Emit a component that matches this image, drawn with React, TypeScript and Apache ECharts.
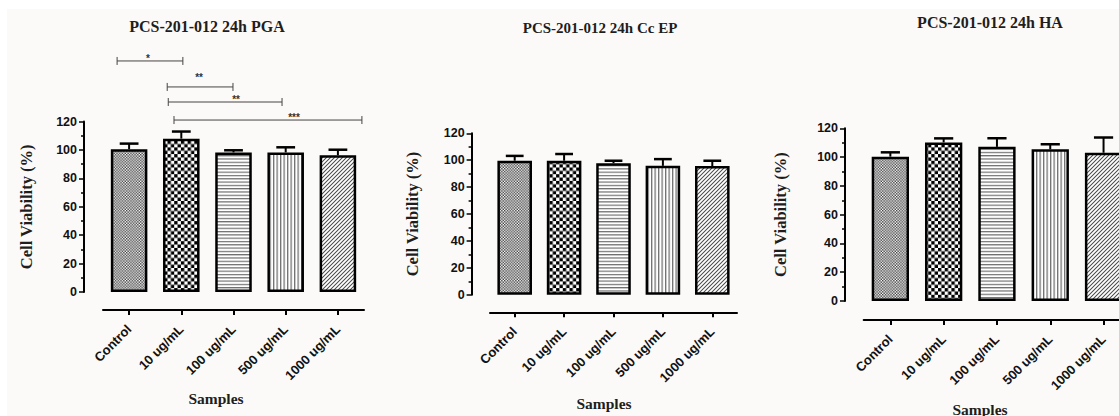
import React, { useEffect, useRef } from "react";
import * as echarts from "echarts";

// ---------------- data ----------------
const categories = ["Control", "10 ug/mL", "100 ug/mL", "500 ug/mL", "1000 ug/mL"];
const titles = ["PCS-201-012 24h PGA", "PCS-201-012 24h Cc EP", "PCS-201-012 24h HA"];
const yAxisName = "Cell Viability (%)";
const xAxisName = "Samples";
const yMin = 0;
const yMax = 120;
const yInterval = 20;

const pgaMean = [100.5, 108, 98.3, 98.3, 96.3];
const pgaSd = [4, 5, 1.5, 3.6, 3.9];
const epMean = [99.6, 99.6, 97.7, 95.8, 95.6];
const epSd = [3.6, 5, 1.9, 5, 4];
const haMean = [100.3, 110.2, 107.1, 105.4, 103];
const haSd = [3, 2.8, 6, 3.5, 10.6];

// significance brackets (PGA panel): ends in category units, heights in % units
const bracketLabels = ["*", "**", "**", "***"];
const bracketFrom = [-0.23, 0.73, 0.75, 0.86];
const bracketTo = [1.03, 1.99, 2.93, 4.46];
const bracketY = [162.7, 144.4, 133.8, 121.1];
const starX = [0.36, 1.34, 2.05, 3.16];
const starY = [164.2, 151.0, 135.5, 122.8];

// ---------------- layout ----------------
const sansFont = "'Liberation Sans', Arial, sans-serif";
const serifFont = "'Liberation Serif', 'Times New Roman', serif";

const grids = [
  { left: 103, top: 121.6, width: 261, height: 170.4, yOff: 19, xOff: 18, nameGap: 49 },
  { left: 490, top: 133.3, width: 247, height: 161.4, yOff: 18.4, xOff: 17.6, nameGap: 51 },
  { left: 863.7, top: 128.3, width: 266.5, height: 172.7, yOff: 18.7, xOff: 19, nameGap: 56 },
];
const titlePos = [
  [207, 26.5, 16],
  [600, 28, 15],
  [990, 22, 16],
];
const samplesPos = [
  [216, 398.5],
  [604, 403],
  [980, 409],
];

function makeTile(cw: number, ch: number, dw: number, dh: number, draw: (ctx: CanvasRenderingContext2D) => void) {
  const c = document.createElement("canvas");
  c.width = cw;
  c.height = ch;
  const ctx = c.getContext("2d") as CanvasRenderingContext2D;
  ctx.fillStyle = "#ffffff";
  ctx.fillRect(0, 0, cw, ch);
  draw(ctx);
  return { image: c.toDataURL(), repeat: "repeat", imageWidth: dw, imageHeight: dh };
}

function buildPatterns() {
  const fine = makeTile(12, 12, 2.8, 2.8, (ctx) => {
    ctx.fillStyle = "#3c3c3c";
    ctx.fillRect(0, 0, 6, 6);
    ctx.fillRect(6, 6, 6, 6);
  });
  const checker = makeTile(20, 20, 6.7, 6.7, (ctx) => {
    ctx.fillStyle = "#000000";
    ctx.fillRect(0, 0, 10, 10);
    ctx.fillRect(10, 10, 10, 10);
  });
  const hLines = makeTile(10, 10, 3.3, 3.3, (ctx) => {
    ctx.fillStyle = "#6a6a6a";
    ctx.fillRect(0, 0, 10, 3.5);
  });
  const vLines = makeTile(10, 10, 3.5, 3.5, (ctx) => {
    ctx.fillStyle = "#6a6a6a";
    ctx.fillRect(0, 0, 3.5, 10);
  });
  const diag = makeTile(16, 16, 4, 4, (ctx) => {
    ctx.strokeStyle = "#444444";
    ctx.lineWidth = 4;
    ctx.beginPath();
    ctx.moveTo(-2, 18);
    ctx.lineTo(18, -2);
    ctx.moveTo(-2, 2);
    ctx.lineTo(2, -2);
    ctx.moveTo(14, 18);
    ctx.lineTo(18, 14);
    ctx.stroke();
  });
  return [fine, checker, hLines, vLines, diag];
}

export default function App() {
  const ref = useRef<HTMLDivElement>(null);

  useEffect(() => {
    if (!ref.current) return;
    const chart = echarts.init(ref.current, undefined, { renderer: "svg" });
    const patterns = buildPatterns();
    const panels = [
      { mean: pgaMean, sd: pgaSd },
      { mean: epMean, sd: epSd },
      { mean: haMean, sd: haSd },
    ];

    const series: any[] = [];
    panels.forEach((p, i) => {
      series.push({
        type: "bar",
        xAxisIndex: i,
        yAxisIndex: i,
        barWidth: "70%",
        itemStyle: { borderColor: "#000", borderWidth: 2.5 },
        data: p.mean.map((v, k) => ({ value: v, itemStyle: { color: patterns[k] } })),
      });
      series.push({
        type: "custom",
        xAxisIndex: i,
        yAxisIndex: i,
        z: 3,
        data: p.mean.map((v, k) => [k, v, p.sd[k]]),
        renderItem: (params: any, api: any) => {
          const k = api.value(0);
          const m = api.value(1);
          const s = api.value(2);
          const base = api.coord([k, m]);
          const top = api.coord([k, m + s]);
          const half = api.size([1, 0])[0] * 0.18;
          return {
            type: "group",
            children: [
              { type: "line", shape: { x1: base[0], y1: base[1], x2: top[0], y2: top[1] }, style: { stroke: "#000", lineWidth: 2 } },
              { type: "line", shape: { x1: top[0] - half, y1: top[1], x2: top[0] + half, y2: top[1] }, style: { stroke: "#000", lineWidth: 2.5 } },
            ],
          };
        },
      });
    });

    series.push({
      type: "custom",
      xAxisIndex: 0,
      yAxisIndex: 0,
      clip: false,
      z: 4,
      data: bracketFrom.map((f, k) => [0, 0, f, bracketTo[k], bracketY[k], starX[k], starY[k]]),
      renderItem: (params: any, api: any) => {
        const band = api.size([1, 0])[0];
        const x0 = api.coord([0, 0])[0];
        const X = (u: number) => x0 + u * band;
        const Y = (v: number) => api.coord([0, v])[1];
        const xa = X(api.value(2));
        const xb = X(api.value(3));
        const y = Y(api.value(4));
        const sx = X(api.value(5));
        const sy = Y(api.value(6));
        const st = { stroke: "#444", lineWidth: 1 };
        return {
          type: "group",
          children: [
            { type: "line", shape: { x1: xa, y1: y, x2: xb, y2: y }, style: st },
            { type: "line", shape: { x1: xa, y1: y - 4, x2: xa, y2: y + 4 }, style: st },
            { type: "line", shape: { x1: xb, y1: y - 4, x2: xb, y2: y + 4 }, style: st },
            {
              type: "text",
              style: {
                text: bracketLabels[params.dataIndex],
                x: sx,
                y: sy,
                align: "center",
                verticalAlign: "middle",
                fill: "#333",
                fontSize: 10,
                fontWeight: "bold",
                fontFamily: sansFont,
              },
            },
          ],
        };
      },
    });

    const graphics: any[] = [
      { type: "rect", z: -10, shape: { x: 7, y: 9, width: 1112, height: 407 }, style: { fill: "#fcfaf8" } },
    ];
    titles.forEach((t, i) => {
      graphics.push({
        type: "text",
        x: titlePos[i][0],
        y: titlePos[i][1],
        style: {
          text: t,
          align: "center",
          verticalAlign: "middle",
          fill: "#1e1e1e",
          fontSize: titlePos[i][2],
          fontWeight: "bold",
          fontFamily: serifFont,
        },
      });
      graphics.push({
        type: "text",
        x: samplesPos[i][0],
        y: samplesPos[i][1],
        style: {
          text: xAxisName,
          align: "center",
          verticalAlign: "middle",
          fill: "#1e1e1e",
          fontSize: 15.5,
          fontWeight: "bold",
          fontFamily: serifFont,
        },
      });
    });

    chart.setOption({
      animation: false,
      backgroundColor: "#ffffff",
      grid: grids.map((g) => ({
        left: g.left,
        top: g.top,
        width: g.width,
        height: g.height,
        containLabel: false,
        outerBoundsMode: "none",
      })),
      xAxis: grids.map((g, i) => ({
        type: "category",
        gridIndex: i,
        data: categories,
        position: "bottom",
        offset: g.xOff,
        axisLine: { show: true, onZero: false, lineStyle: { color: "#000", width: 2 } },
        axisTick: { show: true, alignWithLabel: true, length: 5, lineStyle: { color: "#000", width: 2 } },
        axisLabel: {
          interval: 0,
          rotate: 45,
          margin: 17,
          color: "#111",
          fontSize: 13,
          fontWeight: "bold",
          fontFamily: sansFont,
        },
        splitLine: { show: false },
      })),
      yAxis: grids.map((g, i) => ({
        type: "value",
        gridIndex: i,
        min: yMin,
        max: yMax,
        interval: yInterval,
        offset: g.yOff,
        name: yAxisName,
        nameLocation: "middle",
        nameGap: g.nameGap,
        nameRotate: 90,
        nameTextStyle: { fontFamily: serifFont, fontWeight: "bold", fontSize: 16.5, color: "#1e1e1e" },
        axisLine: { show: true, onZero: false, lineStyle: { color: "#000", width: 2 } },
        axisTick: { show: true, length: 5, lineStyle: { color: "#000", width: 1.5 } },
        minorTick: { show: true, splitNumber: 2, length: 3, lineStyle: { color: "#000", width: 1.5 } },
        axisLabel: { margin: 7, color: "#111", fontSize: 12.5, fontWeight: "bold", fontFamily: sansFont },
        splitLine: { show: false },
        minorSplitLine: { show: false },
      })),
      graphic: graphics,
      series,
    });

    return () => {
      chart.dispose();
    };
  }, []);

  return (
    <div
      ref={ref}
      style={{ position: "absolute", left: 0, top: 0, width: 1119, height: 416 }}
    />
  );
}
